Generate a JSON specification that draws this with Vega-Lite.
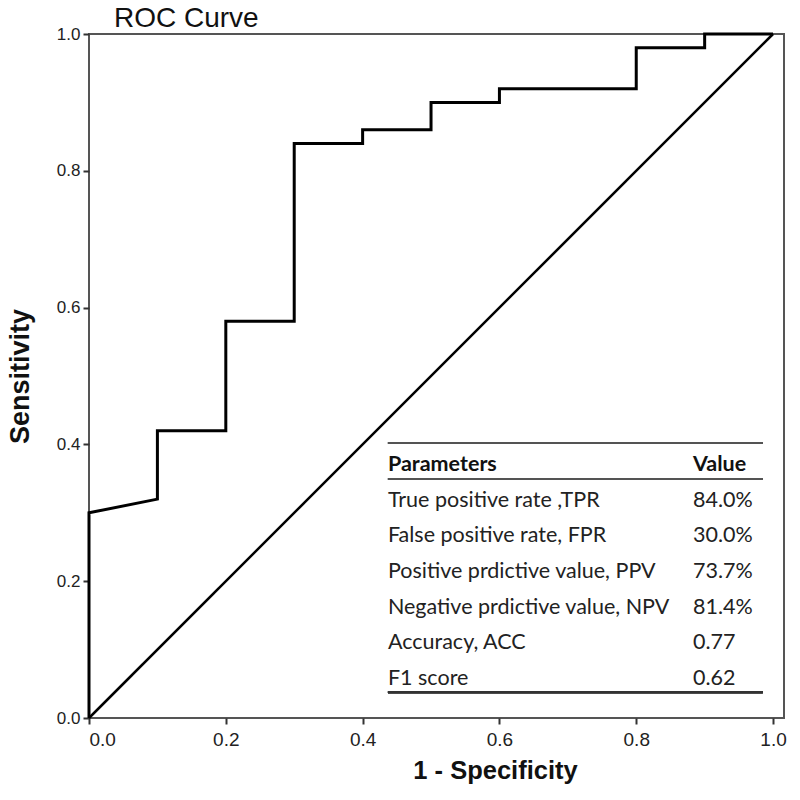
{
  "$schema": "https://vega.github.io/schema/vega-lite/v6.json",
  "width": 695,
  "height": 684,
  "autosize": {"type": "none"},
  "padding": {"left": 89, "top": 34, "right": 16, "bottom": 82},
  "background": "white",
  "config": {
    "view": {"stroke": "#555", "strokeWidth": 2},
    "axis": {"grid": false, "domain": false, "tickColor": "#333", "tickWidth": 2, "tickSize": 6,
      "labelFont": "Liberation Sans", "labelColor": "#222",
      "titleFont": "Liberation Sans", "titleFontWeight": "bold", "titleColor": "#111"}
  },
  "title": {"text": "ROC Curve", "anchor": "start", "frame": "group", "dx": 25, "offset": -30, "baseline": "alphabetic",
    "font": "Liberation Sans", "fontSize": 28, "fontWeight": "normal", "color": "#111"},
  "datasets": {
    "roc": [
      {"i": 0, "fpr": 0.0, "tpr": 0.0},
      {"i": 1, "fpr": 0.0, "tpr": 0.30},
      {"i": 2, "fpr": 0.1, "tpr": 0.32},
      {"i": 3, "fpr": 0.1, "tpr": 0.42},
      {"i": 4, "fpr": 0.2, "tpr": 0.42},
      {"i": 5, "fpr": 0.2, "tpr": 0.58},
      {"i": 6, "fpr": 0.3, "tpr": 0.58},
      {"i": 7, "fpr": 0.3, "tpr": 0.84},
      {"i": 8, "fpr": 0.4, "tpr": 0.84},
      {"i": 9, "fpr": 0.4, "tpr": 0.86},
      {"i": 10, "fpr": 0.5, "tpr": 0.86},
      {"i": 11, "fpr": 0.5, "tpr": 0.90},
      {"i": 12, "fpr": 0.6, "tpr": 0.90},
      {"i": 13, "fpr": 0.6, "tpr": 0.92},
      {"i": 14, "fpr": 0.8, "tpr": 0.92},
      {"i": 15, "fpr": 0.8, "tpr": 0.98},
      {"i": 16, "fpr": 0.9, "tpr": 0.98},
      {"i": 17, "fpr": 0.9, "tpr": 1.0},
      {"i": 18, "fpr": 1.0, "tpr": 1.0}
    ],
    "diag": [
      {"i": 0, "fpr": 0.0, "tpr": 0.0},
      {"i": 1, "fpr": 1.0, "tpr": 1.0}
    ],
    "table": [
      {"row": 0, "label": "Parameters", "value": "Value"},
      {"row": 1, "label": "True positive rate ,TPR", "value": "84.0%"},
      {"row": 2, "label": "False positive rate, FPR", "value": "30.0%"},
      {"row": 3, "label": "Positive prdictive value, PPV", "value": "73.7%"},
      {"row": 4, "label": "Negative prdictive value, NPV", "value": "81.4%"},
      {"row": 5, "label": "Accuracy, ACC", "value": "0.77"},
      {"row": 6, "label": "F1 score", "value": "0.62"}
    ]
  },
  "layer": [
    {
      "layer": [
        {
          "data": {"name": "diag"},
          "mark": {"type": "line", "color": "#000", "strokeWidth": 2.5},
          "encoding": {
            "x": {"field": "fpr", "type": "quantitative", "scale": {"domain": [0, 1.016], "nice": false},
              "axis": {"values": [0, 0.2, 0.4, 0.6, 0.8, 1.0], "format": ".1f", "title": "1 - Specificity", "titleFontSize": 25.5, "titleX": 406, "labelFontSize": 19, "labelPadding": 6, "titlePadding": 9}},
            "y": {"field": "tpr", "type": "quantitative", "scale": {"domain": [0, 1], "nice": false},
              "axis": {"values": [0, 0.2, 0.4, 0.6, 0.8, 1.0], "format": ".1f", "title": "Sensitivity", "titleFontSize": 27, "labelFontSize": 17, "labelPadding": 3, "titlePadding": 22}},
            "order": {"field": "i"}
          }
        },
        {
          "data": {"name": "roc"},
          "mark": {"type": "line", "color": "#000", "strokeWidth": 3},
          "encoding": {
            "x": {"field": "fpr", "type": "quantitative"},
            "y": {"field": "tpr", "type": "quantitative"},
            "order": {"field": "i"}
          }
        }
      ]
    },
    {
      "data": {"name": "table"},
      "layer": [
        {
          "mark": {"type": "rule", "color": "#555", "strokeWidth": 1.5},
          "encoding": {
            "x": {"datum": 0.437},
            "x2": {"datum": 0.985},
            "y": {"datum": -0.62, "type": "quantitative", "scale": {"domain": [-12.08, 7.09], "reverse": true, "nice": false, "zero": false}, "axis": null}
          }
        },
        {
          "mark": {"type": "rule", "color": "#555", "strokeWidth": 1.5},
          "encoding": {"x": {"datum": 0.437}, "x2": {"datum": 0.985}, "y": {"datum": 0.39}}
        },
        {
          "mark": {"type": "rule", "color": "#333", "strokeWidth": 2},
          "encoding": {"x": {"datum": 0.437}, "x2": {"datum": 0.985}, "y": {"datum": 6.37}}
        },
        {
          "transform": [{"filter": "datum.row > 0"}],
          "mark": {"type": "text", "align": "left", "baseline": "middle", "font": "Lato", "fontSize": 21.5, "color": "#222"},
          "encoding": {"x": {"datum": 0.437}, "y": {"field": "row", "type": "quantitative"}, "text": {"field": "label"}}
        },
        {
          "transform": [{"filter": "datum.row > 0"}],
          "mark": {"type": "text", "align": "left", "baseline": "middle", "font": "Lato", "fontSize": 21.5, "color": "#222"},
          "encoding": {"x": {"datum": 0.883}, "y": {"field": "row", "type": "quantitative"}, "text": {"field": "value"}}
        },
        {
          "transform": [{"filter": "datum.row == 0"}],
          "mark": {"type": "text", "align": "left", "baseline": "middle", "font": "Lato", "fontSize": 21.5, "fontWeight": "bold", "color": "#111"},
          "encoding": {"x": {"datum": 0.437}, "y": {"field": "row", "type": "quantitative"}, "text": {"field": "label"}}
        },
        {
          "transform": [{"filter": "datum.row == 0"}],
          "mark": {"type": "text", "align": "left", "baseline": "middle", "font": "Lato", "fontSize": 21.5, "fontWeight": "bold", "color": "#111"},
          "encoding": {"x": {"datum": 0.883}, "y": {"field": "row", "type": "quantitative"}, "text": {"field": "value"}}
        }
      ]
    }
  ],
  "resolve": {"scale": {"y": "independent"}, "axis": {"y": "independent"}}
}
